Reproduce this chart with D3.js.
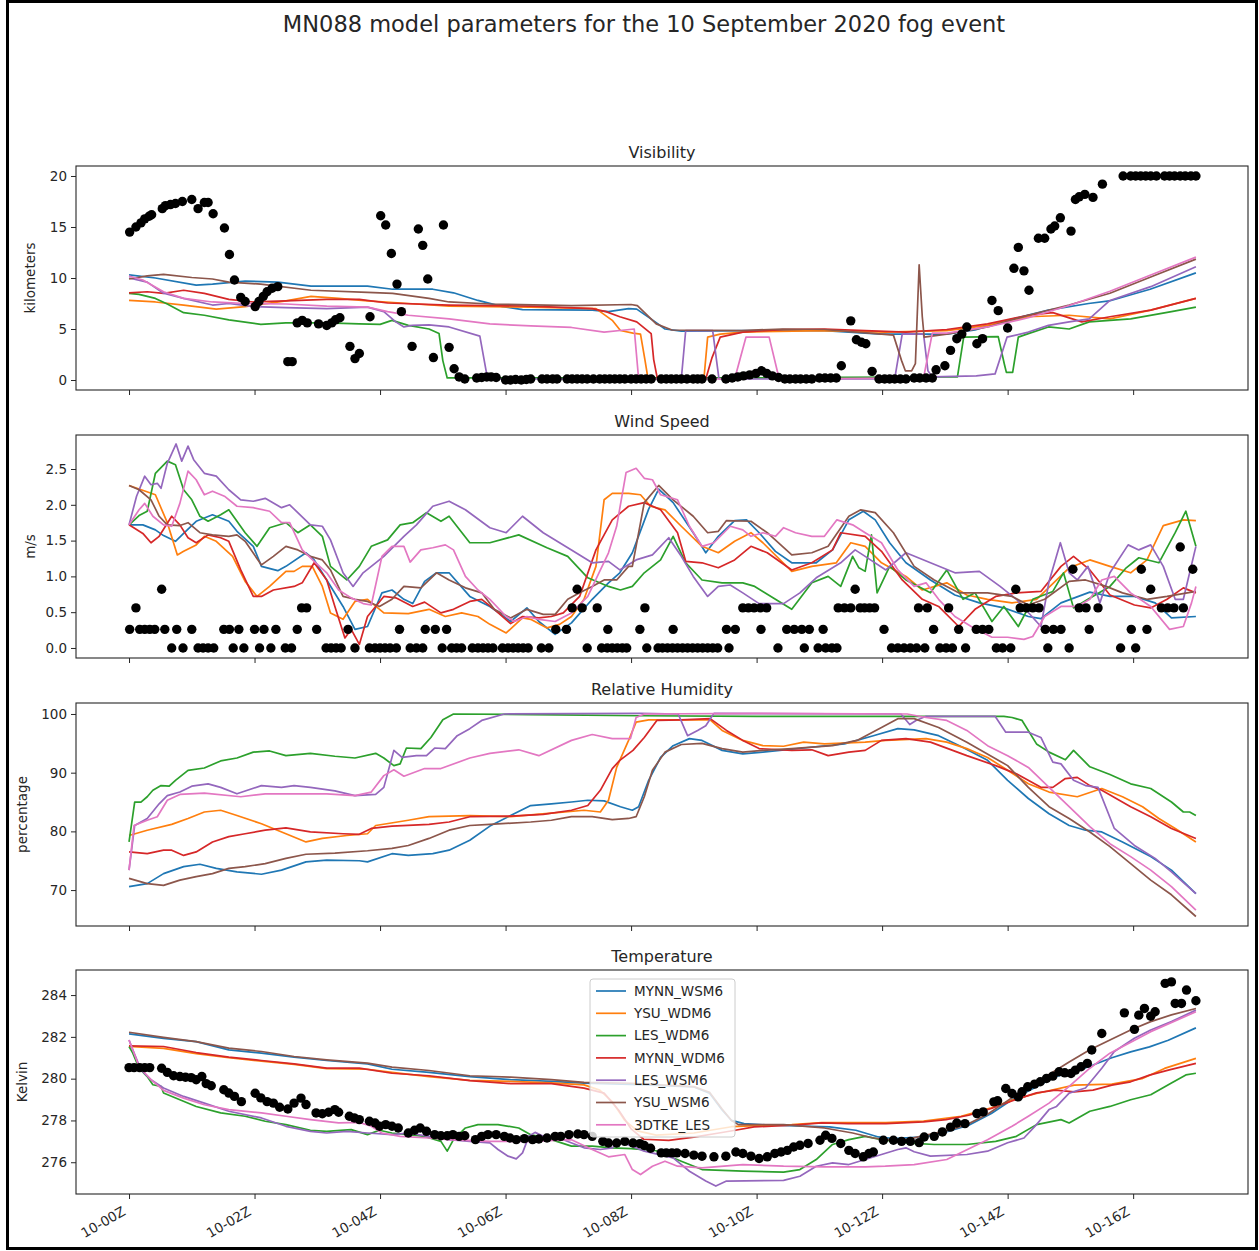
<!DOCTYPE html>
<html>
<head>
<meta charset="utf-8">
<script src="https://cdn.jsdelivr.net/npm/d3@7"></script>
<style>
  body { margin: 0; background: #fff; }
  svg { display: block; }
  text { font-family: "DejaVu Sans", sans-serif; fill: #262626; }
</style>
</head>
<body>
<svg id="chart" width="1259" height="1251"></svg>
<script>
// ---- series names, colours and time axis ----
const seriesNames = ["MYNN_WSM6", "YSU_WDM6", "LES_WDM6", "MYNN_WDM6", "LES_WSM6", "YSU_WSM6", "3DTKE_LES"];
const seriesColors = ["#1f77b4", "#ff7f0e", "#2ca02c", "#d62728", "#9467bd", "#8c564b", "#e377c2"];
const xTickHours = [0, 2, 4, 6, 8, 10, 12, 14, 16];
const xTickLabels = ["10-00Z", "10-02Z", "10-04Z", "10-06Z", "10-08Z", "10-10Z", "10-12Z", "10-14Z", "10-16Z"];

// ---- Visibility (km), [hour, value] ----
const visMYNN_WSM6 = [[0,10.3],[0.42,10.0],[1.07,9.3],[1.33,9.4],[1.85,9.7],[2.37,9.6],[2.9,9.2],[3.8,9.2],[4.2,8.9],[4.84,8.9],[5.17,8.55],[5.56,7.8],[5.95,7.2],[6.27,6.9],[7.38,6.85],[7.64,6.7],[7.96,7.0],[8.09,6.95],[8.35,5.85],[8.54,5.0],[8.8,4.8],[9.78,4.85],[11.08,4.85],[11.99,4.5],[13.03,4.5],[13.48,4.9],[14.0,5.85],[14.65,6.85],[15.29,7.5],[15.62,7.75],[16.27,8.9],[17,10.5]];
const visYSU_WDM6 = [[0,7.8],[0.42,7.65],[0.87,7.35],[1.39,6.95],[1.85,7.2],[2.5,7.75],[2.9,8.2],[3.34,8.0],[3.8,7.75],[4.45,7.5],[5.1,7.25],[6.4,7.15],[7.44,7.0],[7.7,5.85],[7.83,4.85],[8.03,4.6],[8.15,4.5],[8.22,2.0],[8.27,0.1],[9.16,0.1],[9.22,4.2],[9.42,4.5],[9.78,4.7],[11.08,4.85],[12.06,4.7],[13.03,4.85],[13.68,5.35],[14.33,6.2],[14.98,6.35],[15.63,6.0],[16.28,6.85],[17,8.0]];
const visLES_WDM6 = [[0,8.5],[0.16,8.4],[0.42,8.0],[0.61,7.45],[0.87,6.6],[1.2,6.35],[1.59,5.9],[2.1,5.45],[2.5,5.6],[3.15,5.6],[3.67,5.5],[4.0,5.45],[4.19,5.85],[4.45,5.35],[4.78,5.0],[4.94,4.55],[5.0,1.9],[5.07,0.2],[6.0,0.2],[8.0,0.2],[10.0,0.2],[11.3,0.25],[13.2,0.3],[13.3,4.2],[13.85,4.25],[13.95,1.5],[13.98,0.75],[14.08,0.75],[14.17,4.2],[14.33,4.55],[14.65,5.2],[14.98,5.0],[15.3,5.7],[15.96,6.0],[16.61,6.7],[17,7.15]];
const visMYNN_WDM6 = [[0,8.55],[0.29,8.65],[0.55,8.5],[0.87,8.8],[1.2,8.5],[1.59,7.9],[1.98,7.65],[2.5,7.75],[3.15,7.9],[3.67,7.9],[4.12,7.55],[5.1,7.35],[6.4,7.25],[7.38,7.0],[7.6,6.7],[7.82,6.2],[8.09,5.7],[8.32,4.55],[8.36,2.0],[8.42,0.1],[9.19,0.1],[9.29,2.2],[9.42,4.2],[9.78,4.7],[10.43,4.95],[11.08,5.0],[11.73,4.85],[12.38,4.7],[13.03,4.95],[13.68,5.5],[14.33,6.35],[14.72,6.6],[15.18,5.7],[15.63,6.2],[16.28,6.85],[17,8.0]];
const visLES_WSM6 = [[0,10.0],[0.29,9.6],[0.55,8.5],[0.87,8.0],[1.33,7.35],[1.59,7.5],[1.98,7.2],[2.5,7.1],[3.15,7.0],[3.8,7.15],[4.06,6.7],[4.25,5.7],[4.38,5.2],[4.51,5.35],[4.78,5.4],[5.1,5.2],[5.59,4.3],[5.69,0.9],[5.72,0.1],[8.8,0.1],[8.87,4.85],[9.3,4.85],[9.4,0.1],[12.2,0.1],[12.32,4.5],[12.66,4.5],[12.73,0.9],[12.8,0.3],[13.5,0.4],[13.8,0.6],[13.99,4.2],[14.33,4.7],[14.65,5.35],[14.98,5.7],[15.3,6.0],[15.63,7.8],[16.28,9.15],[17,11.1]];
const visYSU_WSM6 = [[0,9.9],[0.29,10.2],[0.55,10.35],[1.0,10.05],[1.33,9.9],[1.59,9.6],[2.1,9.4],[2.9,8.8],[3.8,8.6],[4.2,8.5],[4.78,8.0],[5.1,7.65],[5.75,7.45],[7.05,7.3],[8.0,7.4],[8.1,7.3],[8.4,5.5],[8.65,4.9],[9.76,4.85],[10.41,5.0],[11.08,4.95],[11.9,4.55],[12.18,4.4],[12.31,1.9],[12.37,0.9],[12.47,0.9],[12.53,1.6],[12.59,11.3],[12.64,6.2],[12.67,4.2],[13.03,4.5],[13.68,5.2],[14.33,6.35],[14.98,7.35],[15.63,8.5],[16.28,10.1],[17,11.85]];
const vis3DTKE_LES = [[0,10.2],[0.22,9.8],[0.55,8.65],[0.87,8.0],[1.33,7.65],[1.85,7.5],[2.5,7.45],[3.15,7.25],[3.8,7.15],[4.12,6.7],[4.45,6.35],[5.1,6.0],[5.75,5.5],[6.4,5.3],[7.05,5.15],[7.57,4.7],[7.9,4.9],[8.05,5.0],[8.12,0.1],[9.65,0.1],[9.83,4.2],[10.2,4.2],[10.36,0.1],[12.66,0.2],[12.8,4.6],[13.03,4.6],[13.68,5.2],[14.33,6.1],[14.98,7.3],[15.63,8.7],[16.28,10.3],[17,12.05]];
const visObserved = [[0.01,14.5],[0.11,15.0],[0.19,15.4],[0.25,15.8],[0.32,16.05],[0.36,16.2],[0.53,16.8],[0.58,17.1],[0.66,17.2],[0.74,17.3],[0.85,17.5],[1.0,17.7],[1.1,16.8],[1.2,17.4],[1.26,17.4],[1.34,16.3],[1.52,14.9],[1.6,12.3],[1.68,9.8],[1.78,8.1],[1.85,7.7],[2.01,7.2],[2.07,7.7],[2.14,8.2],[2.2,8.65],[2.28,9.0],[2.37,9.15],[2.53,1.8],[2.6,1.8],[2.68,5.6],[2.76,5.85],[2.84,5.6],[3.02,5.5],[3.15,5.35],[3.23,5.6],[3.29,5.9],[3.36,6.1],[3.52,3.3],[3.6,2.1],[3.67,2.6],[3.84,6.2],[4.01,16.1],[4.09,15.2],[4.18,12.4],[4.27,9.4],[4.34,6.7],[4.51,3.3],[4.61,14.8],[4.68,13.2],[4.76,9.9],[4.85,2.2],[5.01,15.2],[5.1,3.2],[5.18,1.1],[5.26,0.3],[5.35,0.1],[5.54,0.2],[5.62,0.25],[5.7,0.3],[5.77,0.3],[5.85,0.25],[6.0,0.0],[6.08,0.0],[6.16,0.05],[6.25,0.0],[6.33,0.05],[6.4,0.1],[6.58,0.1],[6.66,0.1],[6.75,0.1],[6.82,0.1],[6.98,0.1],[7.06,0.1],[7.14,0.1],[7.22,0.1],[7.3,0.1],[7.4,0.1],[7.5,0.1],[7.58,0.1],[7.66,0.1],[7.74,0.1],[7.82,0.1],[7.9,0.1],[8.0,0.1],[8.08,0.1],[8.16,0.1],[8.24,0.1],[8.32,0.1],[8.48,0.1],[8.56,0.1],[8.64,0.1],[8.72,0.1],[8.8,0.1],[8.89,0.1],[8.99,0.1],[9.06,0.1],[9.13,0.1],[9.29,0.1],[9.51,0.1],[9.61,0.2],[9.7,0.3],[9.79,0.4],[9.89,0.5],[9.99,0.65],[10.08,0.9],[10.16,0.65],[10.25,0.4],[10.35,0.25],[10.45,0.1],[10.53,0.1],[10.62,0.1],[10.7,0.1],[10.79,0.1],[10.88,0.1],[11.0,0.2],[11.09,0.2],[11.18,0.2],[11.27,0.2],[11.35,1.4],[11.5,5.8],[11.59,3.95],[11.67,3.7],[11.74,3.55],[11.84,0.85],[11.95,0.1],[12.04,0.1],[12.12,0.1],[12.2,0.1],[12.29,0.1],[12.38,0.1],[12.51,0.2],[12.6,0.2],[12.7,0.2],[12.8,0.2],[12.86,1.0],[13.0,1.4],[13.09,2.9],[13.19,4.05],[13.27,4.5],[13.35,5.2],[13.51,3.55],[13.6,4.05],[13.75,7.8],[13.85,6.8],[14.0,5.1],[14.1,10.95],[14.17,13.0],[14.26,10.7],[14.34,8.8],[14.49,13.9],[14.59,13.9],[14.69,14.8],[14.75,15.1],[14.84,15.9],[15.01,14.6],[15.08,17.7],[15.14,17.96],[15.23,18.2],[15.36,17.9],[15.51,19.2],[15.84,20],[15.96,20],[16.04,20],[16.12,20],[16.2,20],[16.28,20],[16.37,20],[16.5,20],[16.58,20],[16.66,20],[16.75,20],[16.83,20],[16.92,20],[17.0,20]];

// ---- Wind speed (m/s) ----
const windMYNN_WSM6 = [[0,1.72],[0.22,1.72],[0.42,1.65],[0.55,1.57],[0.74,1.49],[0.87,1.6],[1.07,1.77],[1.33,1.86],[1.59,1.77],[1.72,1.63],[1.98,1.42],[2.11,1.14],[2.37,1.08],[2.5,1.14],[2.82,1.33],[2.95,1.23],[3.15,0.95],[3.41,0.58],[3.6,0.26],[3.8,0.3],[4.03,0.77],[4.19,0.81],[4.38,0.68],[4.52,0.62],[4.71,0.93],[4.9,1.05],[5.1,1.05],[5.43,0.72],[5.75,0.58],[6.08,0.37],[6.34,0.56],[6.53,0.37],[6.79,0.19],[7.05,0.35],[7.38,0.68],[7.64,0.91],[7.82,1.05],[8.02,1.33],[8.28,1.94],[8.44,2.22],[8.67,2.03],[8.99,1.61],[9.19,1.33],[9.39,1.56],[9.65,1.78],[9.84,1.79],[10.04,1.61],[10.3,1.35],[10.56,1.19],[10.95,1.19],[11.21,1.37],[11.47,1.79],[11.7,1.91],[11.89,1.79],[12.12,1.47],[12.38,1.19],[12.77,0.95],[13.16,0.74],[13.55,0.63],[13.94,0.56],[14.33,0.44],[14.53,0.41],[14.85,0.63],[15.31,0.78],[15.63,0.72],[16.02,0.72],[16.35,0.63],[16.61,0.42],[17,0.44]];
const windYSU_WDM6 = [[0,2.27],[0.16,2.22],[0.42,2.14],[0.61,1.75],[0.77,1.3],[0.87,1.35],[1.07,1.44],[1.2,1.56],[1.39,1.49],[1.65,1.28],[1.85,0.93],[2.04,0.72],[2.24,0.86],[2.5,1.07],[2.63,1.07],[2.76,1.14],[2.92,1.14],[3.08,0.86],[3.21,0.49],[3.41,0.4],[3.6,0.65],[3.8,0.68],[4.06,0.49],[4.45,0.48],[4.78,0.54],[5.04,0.44],[5.3,0.49],[5.56,0.44],[5.75,0.33],[6.01,0.21],[6.27,0.42],[6.4,0.4],[6.66,0.28],[6.86,0.33],[7.05,0.44],[7.25,0.68],[7.44,1.14],[7.57,2.07],[7.7,2.16],[7.96,2.16],[8.15,2.14],[8.31,1.98],[8.54,1.93],[8.8,1.7],[9.13,1.42],[9.39,1.33],[9.65,1.49],[9.91,1.61],[10.1,1.47],[10.56,1.07],[10.88,1.14],[11.27,1.19],[11.5,1.47],[11.73,1.42],[11.99,1.19],[12.38,1.0],[12.64,0.81],[13.03,0.91],[13.35,0.74],[13.68,0.68],[14.07,0.63],[14.46,0.68],[14.98,1.12],[15.31,1.23],[15.63,1.14],[15.96,1.05],[16.22,1.23],[16.48,1.71],[16.8,1.79],[17,1.78]];
const windLES_WDM6 = [[0,1.72],[0.16,1.85],[0.29,1.91],[0.42,2.44],[0.61,2.61],[0.74,2.56],[0.87,2.21],[1.0,2.07],[1.13,1.84],[1.26,1.77],[1.46,1.86],[1.59,1.93],[1.85,1.61],[2.04,1.42],[2.24,1.68],[2.5,1.75],[2.69,1.61],[2.89,1.72],[3.08,1.56],[3.21,1.14],[3.47,0.95],[3.67,1.14],[3.86,1.42],[4.12,1.51],[4.32,1.72],[4.52,1.75],[4.74,1.89],[4.97,1.77],[5.1,1.84],[5.43,1.47],[5.75,1.47],[6.21,1.58],[6.66,1.4],[6.99,1.28],[7.31,0.98],[7.64,0.86],[7.83,0.81],[8.02,0.86],[8.21,1.05],[8.47,1.23],[8.67,1.56],[8.87,1.19],[9.13,0.95],[9.45,0.91],[9.78,0.91],[9.97,0.86],[10.3,0.68],[10.56,0.54],[10.88,0.91],[11.14,1.0],[11.34,0.86],[11.53,1.28],[11.63,1.12],[11.73,1.07],[11.83,1.58],[11.92,0.77],[12.12,1.14],[12.38,0.95],[12.77,0.77],[13.03,1.09],[13.29,0.68],[13.48,0.77],[13.75,0.37],[13.94,0.58],[14.17,0.3],[14.4,0.68],[14.72,0.79],[14.89,1.05],[15.05,0.56],[15.28,0.68],[15.63,0.86],[15.89,1.12],[16.09,1.26],[16.41,1.19],[16.67,1.61],[16.84,1.91],[17,1.42]];
const windMYNN_WDM6 = [[0,1.72],[0.22,1.6],[0.35,1.47],[0.48,1.56],[0.68,1.84],[0.81,1.72],[0.94,1.54],[1.07,1.47],[1.26,1.58],[1.46,1.54],[1.59,1.49],[1.78,1.09],[1.98,0.72],[2.11,0.72],[2.3,0.81],[2.63,0.86],[2.76,0.91],[2.95,1.19],[3.15,0.95],[3.28,0.58],[3.44,0.14],[3.54,0.26],[3.67,0.05],[3.8,0.44],[4.06,0.72],[4.25,0.7],[4.52,0.58],[4.71,0.64],[4.97,0.49],[5.17,0.54],[5.43,0.65],[5.62,0.68],[5.82,0.54],[6.08,0.34],[6.27,0.44],[6.53,0.42],[6.73,0.44],[6.92,0.49],[7.18,0.72],[7.44,1.37],[7.7,1.79],[7.96,1.98],[8.21,2.03],[8.47,1.93],[8.74,1.61],[8.87,1.21],[9.13,1.19],[9.39,1.12],[9.65,1.23],[9.91,1.42],[10.17,1.33],[10.56,1.09],[10.88,1.19],[11.21,1.37],[11.34,1.61],[11.73,1.56],[11.99,1.35],[12.32,0.95],[12.64,0.68],[12.9,0.58],[13.22,0.3],[13.48,0.54],[13.81,0.72],[14.14,0.77],[14.53,0.79],[14.85,1.14],[15.05,1.28],[15.31,1.09],[15.63,0.74],[16.02,0.6],[16.28,0.56],[16.54,0.68],[16.8,0.84],[17,0.77]];
const windLES_WSM6 = [[0,1.72],[0.12,2.12],[0.25,2.4],[0.35,2.28],[0.45,2.3],[0.51,2.23],[0.61,2.58],[0.75,2.85],[0.84,2.61],[0.94,2.82],[1.03,2.63],[1.2,2.44],[1.39,2.4],[1.59,2.21],[1.78,2.07],[1.98,2.05],[2.17,2.09],[2.43,1.96],[2.56,2.0],[2.89,1.72],[3.08,1.7],[3.21,1.51],[3.41,1.05],[3.57,0.86],[3.73,1.05],[4.06,1.28],[4.38,1.56],[4.58,1.72],[4.84,1.98],[5.1,2.05],[5.36,1.93],[5.75,1.68],[6.01,1.61],[6.27,1.84],[6.6,1.61],[7.05,1.37],[7.38,1.19],[7.64,1.21],[7.82,1.09],[8.08,1.23],[8.34,1.3],[8.6,1.54],[8.8,1.28],[8.99,1.0],[9.22,0.72],[9.39,0.86],[9.58,0.88],[9.78,0.77],[10.04,0.62],[10.43,0.62],[10.69,0.77],[10.95,0.98],[11.34,1.19],[11.57,1.37],[11.73,1.28],[12.06,1.09],[12.38,1.33],[12.77,1.19],[13.16,1.05],[13.55,1.07],[13.88,0.86],[14.14,0.68],[14.53,0.3],[14.66,0.93],[14.84,1.47],[14.98,1.05],[15.11,0.95],[15.28,1.14],[15.47,0.63],[15.63,1.05],[15.92,1.44],[16.09,1.37],[16.28,1.44],[16.48,1.14],[16.67,0.68],[16.8,0.68],[17,1.42]];
const windYSU_WSM6 = [[0,2.27],[0.16,2.21],[0.35,2.07],[0.48,1.84],[0.61,1.72],[0.81,1.71],[0.94,1.75],[1.13,1.61],[1.33,1.58],[1.59,1.56],[1.72,1.58],[1.85,1.49],[2.11,1.16],[2.3,1.28],[2.5,1.42],[2.69,1.37],[2.89,1.28],[3.08,1.23],[3.21,1.09],[3.41,0.72],[3.6,0.68],[3.8,0.65],[3.99,0.58],[4.19,0.68],[4.38,0.86],[4.65,0.84],[4.9,1.05],[5.1,0.95],[5.36,0.84],[5.62,0.77],[5.82,0.54],[6.08,0.42],[6.34,0.54],[6.6,0.47],[6.79,0.47],[6.99,0.68],[7.18,0.77],[7.38,0.86],[7.57,0.95],[7.77,0.95],[7.96,1.14],[8.02,1.14],[8.21,2.03],[8.44,2.27],[8.67,2.07],[8.99,1.84],[9.22,1.61],[9.39,1.63],[9.52,1.78],[9.91,1.77],[10.17,1.61],[10.56,1.3],[10.88,1.33],[11.14,1.42],[11.47,1.84],[11.66,1.93],[11.89,1.89],[12.18,1.61],[12.51,1.14],[12.83,0.95],[13.22,0.77],[13.68,0.77],[14.07,0.72],[14.33,0.6],[14.59,0.68],[14.98,0.93],[15.24,0.95],[15.57,0.86],[15.83,0.77],[16.22,0.68],[16.54,0.72],[17,0.79]];
const wind3DTKE_LES = [[0,1.72],[0.16,1.93],[0.25,2.02],[0.38,1.84],[0.55,1.72],[0.68,1.7],[0.81,2.02],[0.94,2.47],[1.07,2.35],[1.2,2.14],[1.33,2.19],[1.52,2.12],[1.72,1.98],[1.98,1.96],[2.24,1.91],[2.43,1.75],[2.56,1.75],[2.76,1.37],[2.95,1.21],[3.15,1.05],[3.34,0.81],[3.54,0.7],[3.73,0.62],[3.86,0.6],[4.03,1.28],[4.19,1.42],[4.38,1.42],[4.48,1.2],[4.65,1.37],[4.84,1.4],[5.04,1.44],[5.17,1.37],[5.36,1.0],[5.56,0.81],[5.75,0.68],[6.01,0.44],[6.14,0.37],[6.34,0.44],[6.53,0.4],[6.79,0.37],[7.05,0.49],[7.31,0.72],[7.64,1.33],[7.77,1.7],[7.92,2.45],[8.08,2.51],[8.21,2.37],[8.34,2.35],[8.47,2.14],[8.74,2.07],[8.93,1.7],[9.13,1.42],[9.32,1.47],[9.58,1.7],[9.78,1.65],[9.91,1.56],[10.1,1.61],[10.3,1.56],[10.43,1.68],[10.62,1.61],[10.88,1.56],[11.08,1.56],[11.28,1.79],[11.53,1.72],[11.73,1.61],[11.99,1.47],[12.25,1.09],[12.51,0.86],[12.7,0.91],[12.9,0.68],[13.16,0.44],[13.42,0.3],[13.75,0.15],[14.0,0.15],[14.26,0.12],[14.4,0.16],[14.59,0.44],[14.85,0.58],[15.11,0.58],[15.31,0.68],[15.5,0.95],[15.7,1.0],[15.96,0.77],[16.28,0.58],[16.58,0.26],[16.8,0.3],[16.93,0.63],[17,0.86]];
const windObserved = [[0.01,0.26],[0.11,0.56],[0.17,0.26],[0.25,0.26],[0.33,0.26],[0.41,0.26],[0.52,0.82],[0.57,0.26],[0.68,0],[0.76,0.26],[0.86,0],[1.0,0.26],[1.1,0],[1.18,0],[1.26,0],[1.35,0],[1.51,0.26],[1.6,0.26],[1.66,0],[1.75,0.26],[1.83,0],[2.0,0.26],[2.08,0],[2.15,0.26],[2.26,0],[2.34,0.26],[2.49,0],[2.59,0],[2.68,0.26],[2.75,0.56],[2.83,0.56],[2.99,0.26],[3.14,0],[3.22,0],[3.3,0],[3.38,0],[3.49,0.26],[3.6,0],[3.83,0],[3.92,0],[4.0,0],[4.08,0],[4.16,0],[4.26,0],[4.31,0.26],[4.48,0],[4.58,0],[4.68,0],[4.72,0.26],[4.88,0.26],[4.99,0],[5.06,0.26],[5.14,0],[5.22,0],[5.3,0],[5.47,0],[5.56,0],[5.64,0],[5.72,0],[5.8,0],[5.95,0],[6.04,0],[6.12,0],[6.2,0],[6.28,0],[6.36,0],[6.57,0],[6.69,0],[6.8,0.26],[6.97,0.26],[7.06,0.56],[7.14,0.82],[7.22,0.56],[7.3,0],[7.46,0.56],[7.53,0],[7.62,0],[7.63,0.26],[7.7,0],[7.78,0],[7.86,0],[7.93,0],[8.14,0.26],[8.22,0.56],[8.25,0],[8.43,0],[8.5,0],[8.58,0],[8.66,0],[8.67,0.26],[8.74,0],[8.82,0],[8.9,0],[8.98,0],[9.06,0],[9.14,0],[9.22,0],[9.3,0],[9.38,0],[9.52,0.26],[9.56,0],[9.66,0.26],[9.78,0.56],[9.87,0.56],[9.96,0.56],[10.06,0.56],[10.16,0.56],[10.07,0.26],[10.34,0],[10.48,0.26],[10.6,0.26],[10.72,0.26],[10.76,0],[10.84,0.26],[10.98,0],[11.06,0.26],[11.1,0],[11.2,0],[11.28,0],[11.3,0.56],[11.4,0.56],[11.5,0.56],[11.57,0.82],[11.65,0.56],[11.72,0.56],[11.8,0.56],[11.88,0.56],[12.03,0.26],[12.15,0],[12.25,0],[12.35,0],[12.45,0],[12.58,0.56],[12.55,0],[12.68,0],[12.72,0.56],[12.82,0.26],[12.92,0],[13.02,0],[13.06,0.56],[13.12,0],[13.22,0.26],[13.33,0],[13.5,0.26],[13.6,0.26],[13.7,0.26],[13.82,0],[13.92,0],[14.05,0],[14.13,0.82],[14.2,0.56],[14.3,0.56],[14.4,0.56],[14.5,0.56],[14.6,0.26],[14.64,0],[14.73,0.26],[14.85,0.26],[14.98,0],[15.04,1.1],[15.14,0.56],[15.25,0.56],[15.3,0.26],[15.44,0.56],[15.8,0],[15.97,0.26],[16.04,0],[16.13,1.1],[16.22,0.26],[16.28,0.82],[16.45,0.56],[16.55,0.56],[16.65,0.56],[16.75,1.41],[16.8,0.56],[16.95,1.1]];

// ---- Relative humidity (%) ----
const rhMYNN_WSM6 = [[0,70.6],[0.29,71.1],[0.55,72.8],[0.87,74.0],[1.13,74.4],[1.39,73.7],[1.72,73.1],[2.11,72.7],[2.43,73.4],[2.82,74.8],[3.15,75.1],[3.67,75.0],[3.8,74.8],[4.19,76.2],[4.45,75.9],[4.84,76.2],[5.1,76.8],[5.43,78.5],[5.75,80.9],[6.08,82.7],[6.4,84.4],[6.73,84.7],[7.05,85.0],[7.31,85.3],[7.57,85.2],[7.83,84.2],[8.02,83.6],[8.12,84.2],[8.28,88.7],[8.47,92.6],[8.67,94.6],[8.93,95.8],[9.13,95.5],[9.45,93.8],[9.78,93.2],[10.1,93.5],[10.75,94.2],[11.4,94.9],[11.86,96.3],[12.25,97.5],[12.51,97.3],[12.9,96.3],[13.29,94.3],[13.68,92.1],[14.0,88.7],[14.33,85.6],[14.66,83.0],[14.98,81.0],[15.24,80.2],[15.5,79.9],[15.83,78.2],[16.28,75.7],[16.61,73.4],[17,69.4]];
const rhYSU_WDM6 = [[0,79.3],[0.29,80.2],[0.68,81.2],[0.94,82.2],[1.2,83.3],[1.46,83.6],[1.72,82.7],[2.11,81.3],[2.5,79.6],[2.82,78.2],[3.08,78.8],[3.47,79.3],[3.8,79.6],[3.93,81.0],[4.45,81.9],[4.78,82.5],[5.43,82.7],[6.08,82.5],[6.73,83.1],[7.25,83.6],[7.51,83.3],[7.64,85.3],[7.77,90.9],[7.96,95.5],[8.08,98.6],[8.28,99.0],[9.26,99.0],[9.45,97.2],[9.78,95.5],[10.1,94.6],[10.43,94.5],[10.75,95.2],[11.08,94.9],[11.73,95.2],[12.06,95.5],[12.7,95.8],[13.03,95.2],[13.35,94.1],[13.68,92.6],[14.0,90.4],[14.33,88.1],[14.66,86.7],[15.11,85.9],[15.5,87.3],[15.83,85.9],[16.15,84.2],[16.41,82.2],[16.67,80.5],[17,78.2]];
const rhLES_WDM6 = [[0,78.2],[0.09,85.0],[0.19,85.0],[0.29,85.9],[0.38,87.0],[0.51,87.8],[0.64,87.7],[0.74,88.7],[0.94,90.4],[1.2,90.8],[1.46,92.0],[1.72,92.5],[1.98,93.5],[2.24,93.7],[2.5,92.9],[2.89,93.3],[3.28,92.8],[3.6,92.5],[3.93,93.3],[4.06,92.5],[4.22,91.2],[4.32,91.5],[4.42,94.2],[4.65,94.1],[4.81,96.0],[5.0,99.0],[5.17,100.0],[6.4,99.9],[8.15,99.7],[10.0,99.6],[12.0,99.6],[13.94,99.6],[14.07,99.4],[14.23,98.9],[14.46,94.9],[14.66,93.5],[14.92,92.2],[15.05,93.8],[15.31,91.0],[15.63,89.7],[15.96,88.1],[16.28,87.3],[16.61,85.0],[16.8,83.3],[16.9,83.3],[17,82.7]];
const rhMYNN_WDM6 = [[0,76.5],[0.29,76.2],[0.55,76.8],[0.68,76.8],[0.87,75.9],[1.07,76.5],[1.33,78.2],[1.59,79.1],[1.85,79.6],[2.17,80.2],[2.5,80.6],[2.89,79.9],[3.41,79.6],[3.67,79.5],[3.86,80.5],[4.19,80.9],[4.78,81.2],[5.1,81.6],[5.43,82.5],[6.08,82.6],[6.6,82.9],[7.05,83.6],[7.31,84.4],[7.51,87.0],[7.7,90.7],[7.82,92.1],[8.03,93.8],[8.21,96.0],[8.41,98.9],[8.8,99.0],[9.26,99.2],[9.52,97.2],[9.78,95.5],[10.04,94.1],[10.56,93.8],[10.88,93.9],[11.14,92.9],[11.47,93.5],[11.73,93.8],[11.99,95.5],[12.38,95.8],[12.77,95.2],[13.35,92.9],[13.81,91.2],[14.14,89.8],[14.53,87.5],[14.72,87.5],[14.92,89.0],[15.11,89.2],[15.31,87.8],[15.5,87.0],[15.96,84.2],[16.28,82.5],[16.61,80.5],[17,78.8]];
const rhLES_WSM6 = [[0,73.4],[0.09,81.0],[0.29,82.2],[0.48,84.7],[0.61,86.1],[0.81,86.7],[1.0,87.7],[1.26,88.1],[1.46,87.5],[1.72,86.4],[2.11,87.8],[2.43,87.5],[2.63,87.8],[2.89,87.5],[3.28,86.9],[3.6,86.1],[3.93,86.3],[4.06,87.5],[4.22,93.8],[4.35,92.6],[4.58,92.9],[4.74,92.9],[4.87,94.2],[5.04,94.1],[5.23,96.3],[5.43,97.5],[5.62,98.9],[5.98,100.0],[8.15,100.1],[8.75,100.0],[8.9,96.3],[9.06,97.2],[9.19,98.0],[9.32,100.1],[12.3,100.0],[12.44,98.2],[12.54,98.9],[12.7,99.6],[13.8,99.6],[13.97,96.9],[14.33,96.9],[14.53,96.0],[14.72,91.8],[14.85,91.5],[15.05,88.7],[15.24,87.8],[15.44,87.5],[15.7,80.5],[16.02,77.6],[16.35,75.4],[16.61,73.1],[17,69.4]];
const rhYSU_WSM6 = [[0,72.0],[0.29,71.1],[0.55,70.8],[0.81,71.7],[1.07,72.3],[1.33,72.8],[1.59,73.7],[1.85,74.0],[2.17,74.5],[2.5,75.4],[2.82,76.1],[3.28,76.3],[3.8,76.7],[4.19,77.1],[4.45,77.6],[4.78,78.8],[5.1,80.2],[5.43,81.0],[5.75,81.2],[6.4,81.6],[6.73,81.9],[7.05,82.5],[7.38,82.5],[7.7,82.0],[7.96,82.2],[8.08,82.5],[8.21,85.9],[8.34,90.4],[8.54,93.5],[8.8,94.8],[9.13,95.0],[9.45,94.1],[9.78,93.5],[10.1,93.8],[10.56,94.1],[11.21,94.6],[11.6,95.5],[11.99,97.7],[12.25,99.2],[12.51,99.2],[12.9,97.7],[13.35,95.2],[14.0,91.2],[14.33,87.5],[14.66,84.2],[14.98,82.2],[15.31,79.9],[15.63,77.4],[15.96,74.5],[16.28,71.7],[16.61,69.2],[17,65.5]];
const rh3DTKE_LES = [[0,73.4],[0.08,81.0],[0.29,81.9],[0.45,82.5],[0.61,85.3],[0.81,86.3],[1.2,86.5],[1.78,85.9],[2.17,86.4],[3.15,86.4],[3.6,86.1],[3.86,86.7],[4.06,89.5],[4.22,90.5],[4.38,89.4],[4.71,90.7],[4.97,90.7],[5.43,92.5],[5.75,93.3],[6.21,93.9],[6.53,92.9],[7.05,95.5],[7.38,96.5],[7.7,95.8],[7.99,95.8],[8.08,99.4],[8.21,100.0],[10.0,100.1],[12.4,100.0],[12.7,99.4],[13.03,98.9],[13.35,97.2],[13.68,94.6],[14.0,92.9],[14.33,90.9],[14.66,87.5],[14.98,84.2],[15.31,80.8],[15.63,77.9],[15.96,75.7],[16.28,73.4],[16.61,70.6],[17,66.6]];

// ---- Temperature (K) ----
const tempMYNN_WSM6 = [[0,282.14],[0.55,281.93],[1.07,281.77],[1.59,281.38],[2.11,281.22],[2.63,281.03],[3.15,280.87],[3.8,280.71],[4.19,280.45],[4.78,280.3],[5.43,280.1],[6.08,279.95],[6.73,279.87],[7.25,279.79],[8.0,279.72],[9.0,279.6],[9.25,279.3],[9.45,278.5],[9.6,278.0],[9.8,277.85],[10.26,277.77],[11.16,277.69],[11.58,277.53],[11.94,277.21],[12.18,277.13],[12.66,277.21],[13.02,277.45],[13.38,277.77],[13.74,278.33],[14.1,279.05],[14.46,279.61],[14.76,280.09],[15.06,280.33],[15.36,280.65],[15.66,281.0],[15.96,281.28],[16.26,281.52],[16.56,281.84],[17,282.43]];
const tempYSU_WDM6 = [[0,281.54],[0.55,281.45],[1.07,281.2],[1.59,281.0],[2.11,280.84],[2.63,280.68],[3.15,280.48],[3.8,280.45],[4.19,280.3],[4.78,280.1],[5.43,279.92],[6.08,279.87],[6.73,279.8],[7.25,279.7],[7.5,279.45],[7.7,278.9],[7.9,278.0],[8.1,277.5],[8.4,277.3],[9.0,277.4],[9.6,277.7],[10.0,277.75],[10.56,277.8],[11.04,277.9],[12.06,277.9],[12.66,277.97],[13.26,278.2],[13.74,278.6],[14.1,279.0],[14.46,279.29],[15.06,279.69],[15.66,279.74],[16.14,280.0],[16.5,280.49],[17,280.97]];
const tempLES_WDM6 = [[0,281.54],[0.06,281.22],[0.16,280.5],[0.29,280.1],[0.38,279.71],[0.51,279.63],[0.55,279.31],[0.81,278.99],[1.07,278.67],[1.46,278.36],[1.85,278.2],[2.17,277.96],[2.5,277.8],[2.89,277.53],[3.15,277.48],[3.54,277.56],[3.8,277.32],[3.99,277.53],[4.19,277.4],[4.45,277.32],[4.71,277.24],[4.97,277.0],[5.07,276.53],[5.17,277.08],[5.36,277.64],[5.56,277.8],[5.88,277.8],[6.21,277.64],[6.4,277.32],[6.73,277.08],[7.05,276.77],[7.38,276.77],[7.7,276.69],[8.0,276.65],[8.4,276.55],[8.6,276.3],[8.8,276.05],[9.13,275.65],[9.78,275.57],[10.43,275.53],[10.69,275.65],[10.95,276.13],[11.21,276.85],[11.47,277.08],[11.73,277.24],[11.99,277.08],[12.38,276.93],[12.83,276.85],[13.35,276.85],[13.81,277.0],[14.14,277.24],[14.46,277.8],[14.85,278.04],[14.98,277.88],[15.31,278.44],[15.63,278.67],[15.96,278.99],[16.28,279.23],[16.61,279.79],[16.84,280.18],[17,280.26]];
const tempMYNN_WDM6 = [[0,281.57],[0.55,281.54],[1.07,281.25],[1.59,281.03],[2.11,280.87],[2.63,280.71],[3.15,280.5],[3.67,280.5],[4.19,280.26],[4.78,280.14],[5.43,279.91],[6.08,279.76],[6.73,279.76],[7.25,279.55],[7.57,279.31],[7.8,278.5],[8.0,277.6],[8.2,277.1],[8.6,277.05],[9.0,277.2],[9.4,277.4],[9.66,277.53],[9.96,277.69],[10.56,277.77],[11.04,277.88],[11.46,277.85],[12.06,277.85],[12.66,277.93],[13.02,278.04],[13.38,278.25],[13.74,278.57],[14.1,278.97],[14.46,279.32],[14.76,279.45],[15.06,279.37],[15.36,279.45],[15.66,279.69],[15.96,279.85],[16.26,280.17],[16.56,280.41],[17,280.73]];
const tempLES_WSM6 = [[0,281.85],[0.06,281.38],[0.19,280.42],[0.35,279.95],[0.55,279.55],[0.87,279.15],[1.2,278.83],[1.59,278.44],[2.11,278.12],[2.5,277.72],[2.89,277.48],[3.15,277.4],[3.47,277.48],[3.8,277.4],[4.19,277.32],[4.45,277.4],[4.78,277.24],[5.1,277.08],[5.43,277.0],[5.75,276.93],[5.88,276.61],[6.04,276.29],[6.17,276.16],[6.27,276.45],[6.37,277.24],[6.47,277.43],[6.66,277.16],[6.92,277.08],[7.25,276.69],[7.51,276.61],[7.7,276.69],[7.82,277.0],[8.21,276.53],[8.67,276.21],[8.93,275.57],[9.19,275.1],[9.35,274.86],[9.52,275.1],[10.43,275.13],[10.69,275.33],[10.95,275.81],[11.21,275.97],[11.47,275.89],[11.73,276.13],[11.99,276.37],[12.25,276.61],[12.38,276.69],[12.51,276.5],[12.77,276.29],[13.35,276.37],[13.68,276.53],[14.0,276.93],[14.26,277.16],[14.46,277.8],[14.66,278.52],[14.78,278.67],[14.98,279.31],[15.24,279.55],[15.5,280.5],[15.7,281.3],[16.02,281.93],[16.28,282.33],[16.61,282.73],[17,283.28]];
const tempYSU_WSM6 = [[0,282.22],[0.55,281.98],[1.07,281.77],[1.59,281.46],[2.11,281.3],[2.63,281.06],[3.15,280.9],[3.8,280.74],[4.19,280.55],[4.78,280.39],[5.43,280.14],[6.08,280.07],[6.73,279.95],[7.25,279.82],[8.0,279.78],[9.0,279.62],[9.25,279.35],[9.45,278.55],[9.6,278.0],[9.71,277.8],[10.43,277.8],[11.08,277.64],[11.53,277.4],[11.86,277.16],[12.05,277.08],[12.38,277.08],[12.7,277.3],[13.03,277.5],[13.35,277.8],[13.68,278.3],[14.0,278.95],[14.33,279.6],[14.66,280.2],[14.98,280.8],[15.31,281.38],[15.63,281.85],[15.96,282.33],[16.28,282.73],[16.61,283.05],[17,283.36]];
const temp3DTKE_LES = [[0,281.85],[0.04,281.54],[0.16,280.58],[0.35,279.95],[0.55,279.44],[0.87,279.07],[1.2,278.75],[1.59,278.52],[2.11,278.36],[2.5,278.2],[2.89,278.04],[3.34,277.88],[3.67,277.91],[3.86,277.72],[4.03,277.4],[4.32,277.24],[4.78,277.16],[5.1,277.08],[5.75,277.0],[6.4,277.0],[7.05,277.08],[7.38,276.61],[7.64,276.26],[7.9,276.37],[8.02,275.65],[8.15,275.41],[8.34,275.81],[8.54,276.05],[8.74,275.81],[9.13,275.73],[9.78,275.89],[10.43,275.81],[11.08,275.78],[11.73,275.78],[12.05,275.81],[12.51,275.89],[13.03,276.13],[13.68,277.08],[14.07,277.72],[14.33,278.2],[14.66,278.83],[14.98,279.63],[15.31,280.5],[15.63,281.22],[16.28,282.25],[17,283.2]];
const tempObserved = [[0,280.53],[0.08,280.53],[0.17,280.53],[0.25,280.53],[0.33,280.53],[0.52,280.5],[0.61,280.3],[0.71,280.14],[0.81,280.1],[0.9,280.07],[0.99,280.05],[1.07,279.95],[1.16,280.1],[1.23,279.76],[1.31,279.66],[1.51,279.47],[1.59,279.31],[1.68,279.15],[1.79,278.9],[2.01,279.3],[2.1,279.08],[2.2,278.9],[2.3,278.83],[2.4,278.63],[2.53,278.55],[2.63,278.83],[2.74,279.07],[2.82,278.76],[2.98,278.36],[3.08,278.32],[3.18,278.39],[3.28,278.52],[3.34,278.39],[3.51,278.2],[3.59,278.12],[3.67,278.04],[3.83,277.96],[3.92,277.88],[3.99,277.72],[4.09,277.8],[4.19,277.72],[4.29,277.64],[4.45,277.4],[4.55,277.53],[4.64,277.64],[4.74,277.48],[4.87,277.32],[4.97,277.27],[5.07,277.27],[5.16,277.32],[5.26,277.24],[5.35,277.27],[5.52,277.08],[5.62,277.24],[5.72,277.32],[5.85,277.32],[5.98,277.24],[6.07,277.16],[6.17,277.08],[6.3,277.13],[6.43,277.08],[6.53,277.11],[6.66,277.16],[6.79,277.24],[6.88,277.24],[7.01,277.32],[7.15,277.35],[7.25,277.32],[7.38,277.24],[7.55,277.0],[7.64,276.92],[7.77,276.92],[7.9,277.0],[8.03,276.92],[8.14,276.89],[8.21,276.8],[8.31,276.67],[8.48,276.45],[8.56,276.45],[8.65,276.45],[8.73,276.45],[8.86,276.42],[9.0,276.34],[9.13,276.29],[9.32,276.26],[9.51,276.29],[9.67,276.49],[9.78,276.42],[9.91,276.29],[10.04,276.18],[10.17,276.26],[10.29,276.42],[10.39,276.49],[10.49,276.57],[10.59,276.73],[10.69,276.81],[10.82,276.9],[11.01,277.05],[11.1,277.29],[11.2,277.14],[11.34,276.9],[11.47,276.57],[11.57,276.42],[11.7,276.26],[11.79,276.42],[11.86,276.49],[12.02,277.05],[12.18,277.05],[12.31,277.0],[12.45,277.0],[12.59,276.94],[12.67,277.21],[12.83,277.24],[12.96,277.45],[13.09,277.68],[13.19,277.88],[13.32,277.85],[13.51,278.33],[13.61,278.41],[13.78,278.89],[13.84,278.94],[13.97,279.53],[14.07,279.29],[14.17,279.13],[14.23,279.37],[14.32,279.61],[14.43,279.74],[14.52,279.85],[14.62,280.01],[14.72,280.12],[14.82,280.33],[14.91,280.28],[15.01,280.25],[15.08,280.41],[15.17,280.57],[15.27,280.73],[15.34,281.37],[15.5,282.16],[15.86,283.15],[16.02,282.36],[16.09,283.04],[16.18,283.36],[16.28,282.99],[16.35,283.2],[16.51,284.56],[16.61,284.63],[16.67,283.6],[16.77,283.6],[16.85,284.24],[17.0,283.73]];

// ---- layout of the four stacked axes ----
const axLeft = 76, axRight = 1248;
const panels = [
  { title: "Visibility", ylabel: "kilometers", top: 166, bottom: 390, domain: [-0.98, 20.98],
    ticks: [0, 5, 10, 15, 20], fmt: d3.format("d"), labelX: 35,
    lines: [visMYNN_WSM6, visYSU_WDM6, visLES_WDM6, visMYNN_WDM6, visLES_WSM6, visYSU_WSM6, vis3DTKE_LES], obs: visObserved },
  { title: "Wind Speed", ylabel: "m/s", top: 435, bottom: 658, domain: [-0.14, 2.975],
    ticks: [0, 0.5, 1, 1.5, 2, 2.5], fmt: d3.format(".1f"), labelX: 35,
    lines: [windMYNN_WSM6, windYSU_WDM6, windLES_WDM6, windMYNN_WDM6, windLES_WSM6, windYSU_WSM6, wind3DTKE_LES], obs: windObserved },
  { title: "Relative Humidity", ylabel: "percentage", top: 703, bottom: 926, domain: [63.88, 101.87],
    ticks: [70, 80, 90, 100], fmt: d3.format("d"), labelX: 27,
    lines: [rhMYNN_WSM6, rhYSU_WDM6, rhLES_WDM6, rhMYNN_WDM6, rhLES_WSM6, rhYSU_WSM6, rh3DTKE_LES], obs: null },
  { title: "Temperature", ylabel: "Kelvin", top: 970, bottom: 1194, domain: [274.48, 285.2],
    ticks: [276, 278, 280, 282, 284], fmt: d3.format("d"), labelX: 27,
    lines: [tempMYNN_WSM6, tempYSU_WDM6, tempLES_WDM6, tempMYNN_WDM6, tempLES_WSM6, tempYSU_WSM6, temp3DTKE_LES], obs: tempObserved }
];

const svg = d3.select("#chart");
const FONT = 13.5;

// figure frame
svg.append("rect").attr("x", 7.5).attr("y", 1.5).attr("width", 1249).attr("height", 1247)
  .attr("fill", "none").attr("stroke", "#000").attr("stroke-width", 3);

// figure title
svg.append("text").attr("x", 644).attr("y", 32).attr("text-anchor", "middle")
  .style("font-size", "22.5px").text("MN088 model parameters for the 10 September 2020 fog event");

const x = d3.scaleLinear().domain([-0.845, 17.83]).range([axLeft, axRight]);

panels.forEach((p, pi) => {
  const y = d3.scaleLinear().domain(p.domain).range([p.bottom, p.top]);
  const g = svg.append("g");
  const clipId = "clip" + pi;
  svg.append("clipPath").attr("id", clipId).append("rect")
    .attr("x", axLeft).attr("y", p.top).attr("width", axRight - axLeft).attr("height", p.bottom - p.top);

  const plot = g.append("g").attr("clip-path", `url(#${clipId})`);
  const line = d3.line().x(d => x(d[0])).y(d => y(d[1]));
  p.lines.forEach((s, i) => {
    plot.append("path").datum(s).attr("d", line).attr("fill", "none")
      .attr("stroke", seriesColors[i]).attr("stroke-width", 1.7).attr("stroke-linejoin", "round");
  });
  if (p.obs) {
    plot.selectAll("circle.obs").data(p.obs).join("circle").attr("class", "obs")
      .attr("cx", d => x(d[0])).attr("cy", d => y(d[1])).attr("r", 4.7).attr("fill", "#000");
  }

  // y axis
  const ya = g.append("g").attr("transform", `translate(${axLeft},0)`)
    .call(d3.axisLeft(y).tickValues(p.ticks).tickFormat(p.fmt).tickSize(5).tickPadding(4));
  ya.select(".domain").remove();
  ya.selectAll("line").attr("stroke", "#262626");
  ya.selectAll("text").style("font-size", FONT + "px").attr("fill", "#262626");

  // x axis (labels only on the bottom panel)
  const last = pi === panels.length - 1;
  const xa = g.append("g").attr("transform", `translate(0,${p.bottom})`)
    .call(d3.axisBottom(x).tickValues(xTickHours).tickFormat((d, i) => last ? xTickLabels[i] : "").tickSize(5));
  xa.select(".domain").remove();
  xa.selectAll("line").attr("stroke", "#262626");
  if (last) {
    xa.selectAll("text").style("font-size", FONT + "px").attr("fill", "#262626")
      .attr("text-anchor", "end").attr("dy", null).attr("y", 0)
      .attr("transform", "translate(-3,20) rotate(-30)");
  }

  // spines
  g.append("rect").attr("x", axLeft).attr("y", p.top).attr("width", axRight - axLeft)
    .attr("height", p.bottom - p.top).attr("fill", "none").attr("stroke", "#262626").attr("stroke-width", 1.1);

  // titles
  g.append("text").attr("x", (axLeft + axRight) / 2).attr("y", p.top - 8).attr("text-anchor", "middle")
    .style("font-size", "16px").text(p.title);
  g.append("text").attr("transform", `translate(${p.labelX},${(p.top + p.bottom) / 2}) rotate(-90)`)
    .attr("text-anchor", "middle").style("font-size", FONT + "px").text(p.ylabel);

  // legend on the temperature axes
  if (last) {
    const lg = g.append("g").attr("transform", "translate(590,979)");
    lg.append("rect").attr("width", 145).attr("height", 158).attr("rx", 3)
      .attr("fill", "#fff").attr("fill-opacity", 0.8).attr("stroke", "#cccccc");
    seriesNames.forEach((n, i) => {
      const cy = 12 + i * 22.3;
      lg.append("line").attr("x1", 6).attr("x2", 36).attr("y1", cy).attr("y2", cy)
        .attr("stroke", seriesColors[i]).attr("stroke-width", 1.7);
      lg.append("text").attr("x", 44).attr("y", cy).attr("dy", "0.36em")
        .style("font-size", FONT + "px").text(n);
    });
  }
});
</script>
</body>
</html>
